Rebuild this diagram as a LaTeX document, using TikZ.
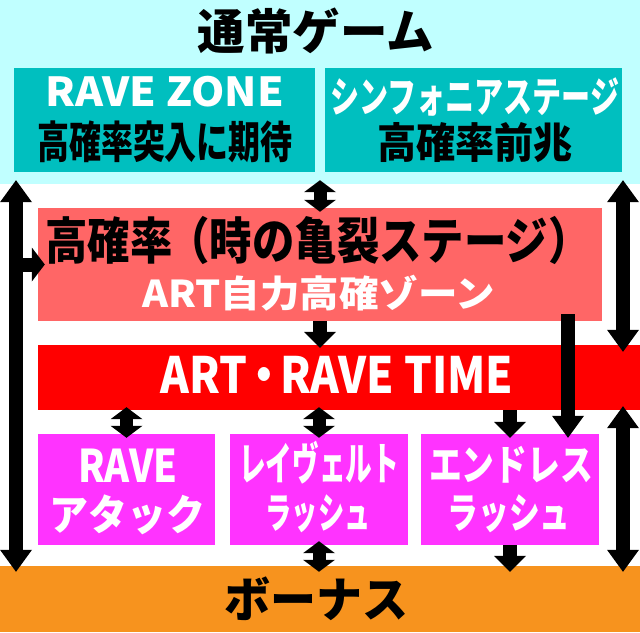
\documentclass[tikz,border=0pt]{standalone}
\usepackage{fontspec}
\usetikzlibrary{arrows.meta}
\newfontfamily\jpfont{Noto Sans CJK JP Black}
\definecolor{normalbg}{HTML}{C0FFFF}
\definecolor{teal}{HTML}{00BFBF}
\definecolor{salmon}{HTML}{FF6666}
\definecolor{artred}{HTML}{FF0000}
\definecolor{rushpink}{HTML}{FF33FF}
\definecolor{bonusorange}{HTML}{F7931E}
\newcommand\fs[1]{\fontsize{#1}{#1}\selectfont}
\newcommand\fitw[2]{\resizebox{#1}{\height}{#2}}
\tikzset{
  Big/.tip={Triangle[width=32pt,length=22pt,line width=0pt]},
  Mid/.tip={Triangle[width=32pt,length=16pt,line width=0pt]},
  Small/.tip={Triangle[width=32pt,length=12pt,line width=0pt]},
  box/.style={rectangle, inner sep=0pt, draw=none},
  wtxt/.style={inner sep=0pt, font=\jpfont, text=white},
  ktxt/.style={inner sep=0pt, font=\jpfont, text=black},
  flow/.style={line width=14pt, -Big},
  both/.style={line width=14pt, Big-Big},
  step1/.style={line width=14pt, -Mid},
  pair/.style={line width=13pt, Small-Small}
}
\begin{document}
\begin{tikzpicture}[x=1pt, y=-1pt]
    \useasboundingbox (0,0) rectangle (640,632);

    % boxes
    \node[box, fill=normalbg, minimum width=640pt, minimum height=184pt] (normal) at (320,92) {};
    \node[box, fill=teal, minimum width=301pt, minimum height=104pt] (zone) at (164.5,120) {};
    \node[box, fill=teal, minimum width=297pt, minimum height=104pt] (symph) at (473.5,120) {};
    \node[box, fill=salmon, minimum width=564pt, minimum height=113pt] (high) at (320,264.5) {};
    \node[box, fill=artred, minimum width=602pt, minimum height=65pt] (time) at (339,377.5) {};
    \node[box, fill=rushpink, minimum width=177pt, minimum height=111pt] (attack) at (126.5,489.5) {};
    \node[box, fill=rushpink, minimum width=178pt, minimum height=111pt] (revel) at (319,489.5) {};
    \node[box, fill=rushpink, minimum width=178pt, minimum height=111pt] (endless) at (510,489.5) {};
    \node[box, fill=bonusorange, minimum width=640pt, minimum height=66pt] (bonus) at (320,599) {};

    % texts
    \node[ktxt] (normal-t) at (316,31) {\fs{48}\fitw{236pt}{通常ゲーム}};
    \node[wtxt] (zone-t1) at (165,92) {\fs{40}\fitw{238pt}{RAVE ZONE}};
    \node[ktxt] (zone-t2) at (165,142) {\fs{44}\fitw{256pt}{高確率突入に期待}};
    \node[wtxt] (symph-t1) at (475,97) {\fs{42}\fitw{289pt}{シンフォニアステージ}};
    \node[ktxt] (symph-t2) at (475,143) {\fs{42}\fitw{196pt}{高確率前兆}};
    \node[ktxt] (high-t1) at (318,240) {\fs{50}\fitw{545pt}{高確率\kern-6pt（時の亀裂ステージ）}};
    \node[wtxt] (high-t2) at (319,293) {\fs{37}\fitw{353pt}{ART自力高確ゾーン}};
    \node[wtxt] (time-t) at (337,375) {\fs{50}\fitw{353pt}{ART\kern-6pt・\kern-6pt RAVE TIME}};
    \node[wtxt] (attack-t1) at (128,466) {\fs{45}\fitw{99pt}{RAVE}};
    \node[wtxt] (attack-t2) at (127,515) {\fs{42}\fitw{156pt}{アタック}};
    \node[wtxt] (revel-t1) at (319,463) {\fs{45}\fitw{160pt}{レイヴェルト}};
    \node[wtxt] (revel-t2) at (318,514) {\fs{42}\fitw{105pt}{ラッシュ}};
    \node[wtxt] (endless-t1) at (511,465) {\fs{42}\fitw{164pt}{エンドレス}};
    \node[wtxt] (endless-t2) at (509,514) {\fs{42}\fitw{123pt}{ラッシュ}};
    \node[ktxt] (bonus-t) at (316,599) {\fs{48}\fitw{184pt}{ボーナス}};

    % arrows
    \coordinate (lx) at (16,0);
    \coordinate (rx) at (623,0);
    \coordinate (ex) at (568,0);
    \draw[both, shorten <=-4pt, shorten >=-6pt] (lx |- normal.south) -- (lx |- bonus.north);
    \draw[line width=14pt, -{Triangle[width=34pt,length=13pt,line width=0pt]}, shorten >=-7pt] (lx |- high.west) -- (high.west);
    \draw[pair, shorten <=-4pt, shorten >=-4pt] (normal.south -| high.north) -- (high.north);
    \draw[step1, shorten >=-3pt] (high.south) -- (high.south |- time.north);
    \draw[both, shorten <=-4pt, shorten >=-7pt] (rx |- normal.south) -- (rx |- time.north);
    \draw[both, shorten <=-4pt, shorten >=-6pt] (rx |- time.south) -- (rx |- bonus.north);
    \draw[flow, shorten <=-7pt, shorten >=-4pt] (ex |- high.south) -- (ex |- endless.north);
    \draw[step1, shorten >=-4pt] (time.south -| endless.north) -- (endless.north);
    \draw[pair, shorten <=-3pt, shorten >=-4pt] (time.south -| attack.north) -- (attack.north);
    \draw[pair, shorten <=-3pt, shorten >=-4pt] (time.south -| revel.north) -- (revel.north);
    \draw[pair, shorten <=-4pt, shorten >=-6pt] (revel.south) -- (revel.south |- bonus.north);
    \draw[step1, shorten >=-6pt] (endless.south) -- (endless.south |- bonus.north);
\end{tikzpicture}
\end{document}
